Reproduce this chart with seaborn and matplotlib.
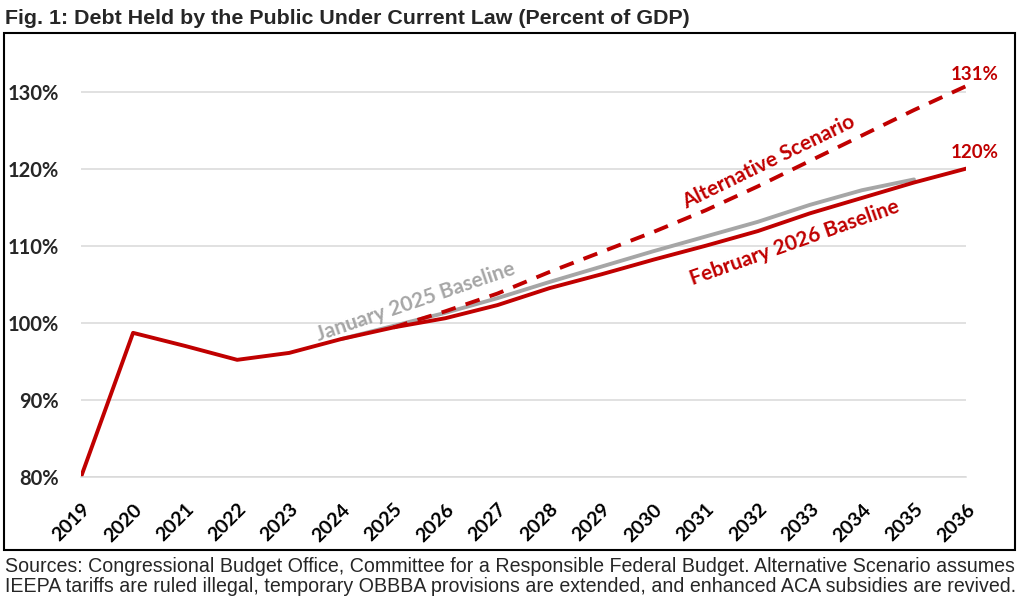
import numpy as np
import pandas as pd
import matplotlib.pyplot as plt
import matplotlib.patches as mpatches
import seaborn as sns

# Datos (porcentaje del PIB)
years = list(range(2019, 2037))
feb_2026 = [80.0, 98.7, 97.0, 95.2, 96.1, 97.9, 99.4, 100.6, 102.3, 104.5,
            106.3, 108.2, 110.0, 111.9, 114.2, 116.2, 118.2, 120.0]
jan_2025_years = list(range(2024, 2036))
jan_2025 = [97.9, 99.6, 101.3, 103.2, 105.3, 107.3, 109.3, 111.2, 113.1,
            115.3, 117.2, 118.6]
alt_years = list(range(2025, 2037))
alt_scenario = [99.4, 101.5, 103.8, 106.6, 109.2, 111.8, 114.6, 117.7,
                121.0, 124.3, 127.6, 130.7]
y_ticks = [80, 90, 100, 110, 120, 130]

df_feb = pd.DataFrame({'year': years, 'debt': feb_2026})
df_jan = pd.DataFrame({'year': jan_2025_years, 'debt': jan_2025})
df_alt = pd.DataFrame({'year': alt_years, 'debt': alt_scenario})

RED = '#C00000'
GRAY = '#A6A6A6'

sns.set_style('white')
plt.rcParams['font.family'] = ['Lato', 'DejaVu Sans']

fig = plt.figure(figsize=(10.24, 6.01), dpi=100)
ax = fig.add_axes([0.0791, 0.2063, 0.8643, 0.7055])

sns.lineplot(data=df_jan, x='year', y='debt', ax=ax, color=GRAY, linewidth=2.8)
sns.lineplot(data=df_alt, x='year', y='debt', ax=ax, color=RED, linewidth=2.8,
             linestyle=(0, (3.8, 2.7)))
sns.lineplot(data=df_feb, x='year', y='debt', ax=ax, color=RED, linewidth=2.8)

ax.set_xlim(2019, 2036)
ax.set_ylim(80, 135)
ax.set_yticks(y_ticks)
ax.set_yticklabels([f'{v}%' for v in y_ticks], fontsize=14.5, fontweight='bold')
ax.set_xticks(years)
ax.set_xticklabels([str(y) for y in years], fontsize=14, fontweight='bold',
                   rotation=45, ha='right', rotation_mode='anchor')
ax.set_xlabel('')
ax.set_ylabel('')
ax.grid(axis='y', color='#D9D9D9', linewidth=1.1)
ax.set_axisbelow(True)
for side in ['top', 'right', 'left']:
    ax.spines[side].set_visible(False)
ax.spines['bottom'].set_color('#D9D9D9')
ax.spines['bottom'].set_linewidth(1.1)
ax.tick_params(axis='y', length=0, pad=16)
ax.tick_params(axis='x', length=5, width=1.1, color='#D9D9D9', direction='out', pad=12)
ax.tick_params(axis='x', labelcolor='black')

# Etiquetas de las series
ax.text(2025.43, 102.7, 'January 2025 Baseline', color=GRAY, fontsize=15,
        fontweight='bold', rotation=18.8, ha='center', va='center',
        rotation_mode='anchor')
ax.text(2032.2, 120.9, 'Alternative Scenario', color=RED, fontsize=15,
        fontweight='bold', rotation=26, ha='center', va='center',
        rotation_mode='anchor')
ax.text(2032.7, 110.4, 'February 2026 Baseline', color=RED, fontsize=15,
        fontweight='bold', rotation=19.5, ha='center', va='center',
        rotation_mode='anchor')
ax.text(2036.17, 132.2, '131%', color=RED, fontsize=13.5, fontweight='bold',
        ha='center', va='center', clip_on=False)
ax.text(2036.17, 122.1, '120%', color=RED, fontsize=13.5, fontweight='bold',
        ha='center', va='center', clip_on=False)

# Marco y textos
fig.patches.append(mpatches.Rectangle((4 / 1024, 1 - 550 / 601), 1011 / 1024, 517 / 601,
                                      transform=fig.transFigure, fill=False,
                                      edgecolor='black', linewidth=1.5))
fig.text(0.005, 1 - 18 / 601, 'Fig. 1: Debt Held by the Public Under Current Law (Percent of GDP)',
         family='Liberation Sans', fontsize=15.4, fontweight='bold', va='center')
fig.text(0.005, 1 - 566 / 601,
         'Sources: Congressional Budget Office, Committee for a Responsible Federal Budget. '
         'Alternative Scenario assumes',
         family='Liberation Sans', fontsize=14.1, va='center')
fig.text(0.005, 1 - 587 / 601,
         'IEEPA tariffs are ruled illegal, temporary OBBBA provisions are extended, '
         'and enhanced ACA subsidies are revived.',
         family='Liberation Sans', fontsize=14.1, va='center')

plt.savefig('out.png', dpi=100)
